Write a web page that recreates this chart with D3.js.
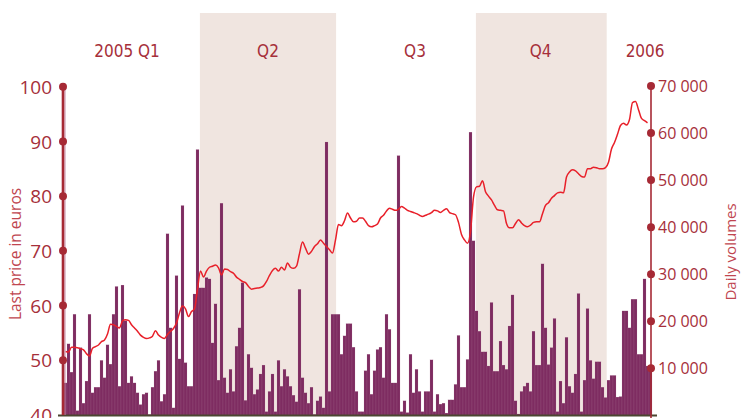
<!DOCTYPE html>
<html>
<head>
<meta charset="utf-8">
<script src="https://cdn.jsdelivr.net/npm/d3@7"></script>
<style>
  body { margin: 0; background: #fff; }
  svg { display: block; }
  .tick-left { font-family: "Open Sans", sans-serif; font-size: 19px; fill: #a62f3a; }
  .tick-right { font-family: "Open Sans", sans-serif; font-size: 16px; fill: #a62f3a; }
  .axis-title { font-family: "Open Sans", sans-serif; font-size: 15.5px; fill: #c04650; }
  .period { font-family: "Liberation Sans Narrow", "DejaVu Sans Condensed", sans-serif; font-size: 17px; fill: #a62f3a; }
</style>
</head>
<body>
<svg class="chart"></svg>
<script>
// daily volumes (shares), one per bar
var volumes = [
  6900, 15200, 9200, 21500, 1000, 14400, 2600, 7300, 21500, 4800,
  6000, 6000, 11700, 8000, 15000, 10900, 21500, 27400, 6200, 27700,
  20100, 6900, 8300, 6900, 4800, 2300, 4500, 4800, 200, 6000,
  9400, 11700, 3000, 4500, 38600, 18600, 1600, 29700, 12000, 44600,
  11200, 6200, 6200, 25800, 56500, 27100, 27100, 29300, 29000, 15400,
  23700, 7500, 45100, 8000, 4800, 9800, 5100, 14700, 18600, 28200,
  3200, 13000, 10100, 4500, 5500, 8800, 10700, 800, 5100, 8800,
  800, 11700, 6200, 9800, 8300, 6200, 4300, 2900, 26800, 8000,
  4800, 2600, 6000, 200, 3100, 4000, 1600, 58100, 5100, 21500,
  21500, 21500, 13000, 16900, 19500, 19500, 14500, 5100, 800, 800,
  9500, 13000, 4500, 9500, 14000, 14500, 8000, 21500, 18300, 6900,
  6900, 55200, 800, 3100, 600, 13000, 4800, 9800, 5100, 800,
  5100, 5100, 11800, 800, 4500, 2400, 2600, 500, 3300, 3300,
  6600, 17000, 6000, 6000, 11900, 60200, 37100, 22200, 17900, 13500,
  13500, 10500, 24000, 9400, 9400, 15800, 10700, 9800, 19000, 25600,
  3100, 300, 5100, 6200, 6900, 5100, 17900, 10700, 10700, 32200,
  18600, 10800, 14400, 20600, 800, 7300, 2600, 16600, 6200, 4800,
  8800, 25900, 800, 7500, 22700, 11700, 7800, 11400, 11400, 6000,
  3800, 7500, 8500, 8500, 3900, 4000, 22200, 22200, 18600, 24700,
  24700, 13000, 13000, 29000, 10500, 10500
];

// last price in euros, same days
var prices = [
  51.6, 51.5, 52.4, 52.4, 52.3, 52.1, 51.9, 51.2, 50.8, 52.2,
  52.5, 52.8, 53.4, 53.7, 54.8, 56.6, 56.5, 56.2, 55.9, 57.2,
  57.4, 57.3, 56.5, 55.9, 55.3, 54.6, 54.2, 54.0, 54.1, 54.4,
  55.4, 54.6, 54.2, 54.0, 54.7, 55.3, 55.8, 56.8, 58.7, 59.9,
  59.4, 58.0, 58.9, 59.4, 63.0, 66.3, 65.2, 66.3, 67.0, 67.2,
  67.4, 66.9, 65.6, 66.7, 66.6, 66.2, 65.9, 65.2, 64.8, 64.4,
  64.2, 63.5, 63.0, 63.1, 63.2, 63.3, 63.6, 64.4, 65.5, 66.4,
  66.8, 66.3, 67.0, 66.5, 67.8, 67.0, 66.8, 67.2, 69.5, 71.6,
  70.5, 69.4, 69.9, 70.8, 71.3, 72.0, 71.4, 70.8, 70.2, 69.6,
  72.0, 74.8, 74.6, 75.5, 76.9, 76.0, 75.3, 75.4, 76.0, 76.0,
  75.4, 74.6, 74.4, 74.6, 74.9, 76.0, 76.5, 77.3, 77.8, 77.6,
  77.4, 77.6, 78.1, 77.8, 77.4, 77.2, 77.0, 76.8, 76.5, 76.3,
  76.5, 76.7, 77.0, 77.4, 77.3, 77.0, 77.4, 77.7, 77.0, 76.8,
  76.6, 75.2, 73.0, 72.0, 71.4, 73.5, 79.8, 81.7, 81.8, 82.8,
  80.8, 80.0, 79.3, 78.3, 77.5, 77.4, 77.3, 75.0, 74.2, 74.2,
  75.0, 75.7, 75.1, 74.6, 74.4, 74.7, 75.2, 75.3, 75.3, 76.8,
  78.3, 78.8, 79.6, 80.1, 80.6, 80.7, 80.6, 83.5, 84.4, 84.8,
  84.6, 84.1, 83.6, 83.5, 85.0, 85.0, 85.3, 85.2, 85.0, 85.0,
  85.2, 86.2, 88.6, 89.8, 91.3, 92.9, 93.3, 93.0, 94.0, 97.1,
  97.3, 95.8, 94.2, 93.8, 93.4, null
];

// periods along the top, in bar units
var periodLabels = ["2005 Q1", "Q2", "Q3", "Q4", "2006"];
var periodCenters = [21, 68, 117, 158.9, 193.7];
var shadedStart = [45.3, 137.3];
var shadedEnd = [90.7, 180.9];

var priceTicks = [40, 50, 60, 70, 80, 90, 100];
var volumeTicks = [10000, 20000, 30000, 40000, 50000, 60000, 70000];

var width = 741, height = 418;
var svg = d3.select(".chart").attr("width", width).attr("height", height);

var x = d3.scaleLinear().domain([0, volumes.length]).range([64, 652]);
var yPrice = d3.scaleLinear().domain([40, 100]).range([415, 86.7]);
var yVol = d3.scaleLinear().domain([0, 70000]).range([415.4, 86]);
var axisColor = "#a62a35";

// shaded quarters
svg.selectAll(".band")
  .data(shadedStart)
  .enter().append("rect")
  .attr("class", "band")
  .attr("x", function(d) { return x(d); })
  .attr("y", 13)
  .attr("width", function(d, i) { return x(shadedEnd[i]) - x(d); })
  .attr("height", 415 - 13)
  .attr("fill", "#f0e5e0");

svg.selectAll(".period")
  .data(periodLabels)
  .enter().append("text")
  .attr("class", "period")
  .attr("x", function(d, i) { return x(periodCenters[i]); })
  .attr("y", 57)
  .attr("text-anchor", "middle")
  .text(function(d) { return d; });

// volume bars
var bw = x(1) - x(0);
svg.selectAll(".bar")
  .data(volumes)
  .enter().append("rect")
  .attr("class", "bar")
  .attr("x", function(d, i) { return x(i); })
  .attr("y", function(d) { return yVol(d); })
  .attr("width", bw)
  .attr("height", function(d) { return yVol(0) - yVol(d); })
  .attr("fill", "#7e2c61")
  .attr("stroke", "#b98aa4")
  .attr("stroke-width", 0.15);

// price line
var line = d3.line()
  .defined(function(d) { return d != null; })
  .x(function(d, i) { return x(i + 0.5); })
  .y(function(d) { return yPrice(d); })
  .curve(d3.curveMonotoneX);

svg.append("path")
  .datum(prices)
  .attr("d", line)
  .attr("fill", "none")
  .attr("stroke", "#e8202a")
  .attr("stroke-width", 1.5);

// baseline
svg.append("line")
  .attr("x1", 58).attr("x2", 657)
  .attr("y1", 415.5).attr("y2", 415.5)
  .attr("stroke", "#4b4530")
  .attr("stroke-width", 2);

// left axis
var leftAxis = svg.append("g")
  .attr("transform", "translate(63,0)")
  .call(d3.axisLeft(yPrice).tickValues(priceTicks).tickSize(0).tickPadding(11));
leftAxis.select(".domain").remove();
leftAxis.selectAll("text").attr("class", "tick-left").attr("fill", null).attr("dy", "0.35em");
leftAxis.append("line")
  .attr("x1", 2).attr("x2", 2).attr("y1", 87).attr("y2", 415)
  .attr("stroke", "#c48aa7").attr("stroke-width", 1);
leftAxis.append("line")
  .attr("x1", 0).attr("x2", 0).attr("y1", 86.7).attr("y2", 415)
  .attr("stroke", axisColor).attr("stroke-width", 2.6);
leftAxis.selectAll(".dot")
  .data(priceTicks.slice(1))
  .enter().append("circle")
  .attr("cx", 0)
  .attr("cy", function(d) { return yPrice(d); })
  .attr("r", 4)
  .attr("fill", axisColor);

// right axis
var rightAxis = svg.append("g")
  .attr("transform", "translate(651,0)")
  .call(d3.axisRight(yVol).tickValues(volumeTicks).tickSize(0).tickPadding(7)
    .tickFormat(function(d) { return d3.format(",")(d).replace(",", " "); }));
rightAxis.select(".domain").remove();
rightAxis.selectAll("text").attr("class", "tick-right").attr("fill", null).attr("dy", "0.35em");
rightAxis.append("line")
  .attr("x1", 0).attr("x2", 0).attr("y1", 86).attr("y2", 418)
  .attr("stroke", axisColor).attr("stroke-width", 1.6);
rightAxis.selectAll(".dot")
  .data(volumeTicks)
  .enter().append("circle")
  .attr("cx", 0)
  .attr("cy", function(d) { return yVol(d); })
  .attr("r", 4)
  .attr("fill", axisColor);

// axis titles
svg.append("text")
  .attr("class", "axis-title")
  .attr("transform", "translate(21,254) rotate(-90)")
  .attr("text-anchor", "middle")
  .text("Last price in euros");

svg.append("text")
  .attr("class", "axis-title")
  .attr("transform", "translate(736,252) rotate(-90)")
  .attr("text-anchor", "middle")
  .style("font-size", "15px")
  .text("Daily volumes");
</script>
</body>
</html>
